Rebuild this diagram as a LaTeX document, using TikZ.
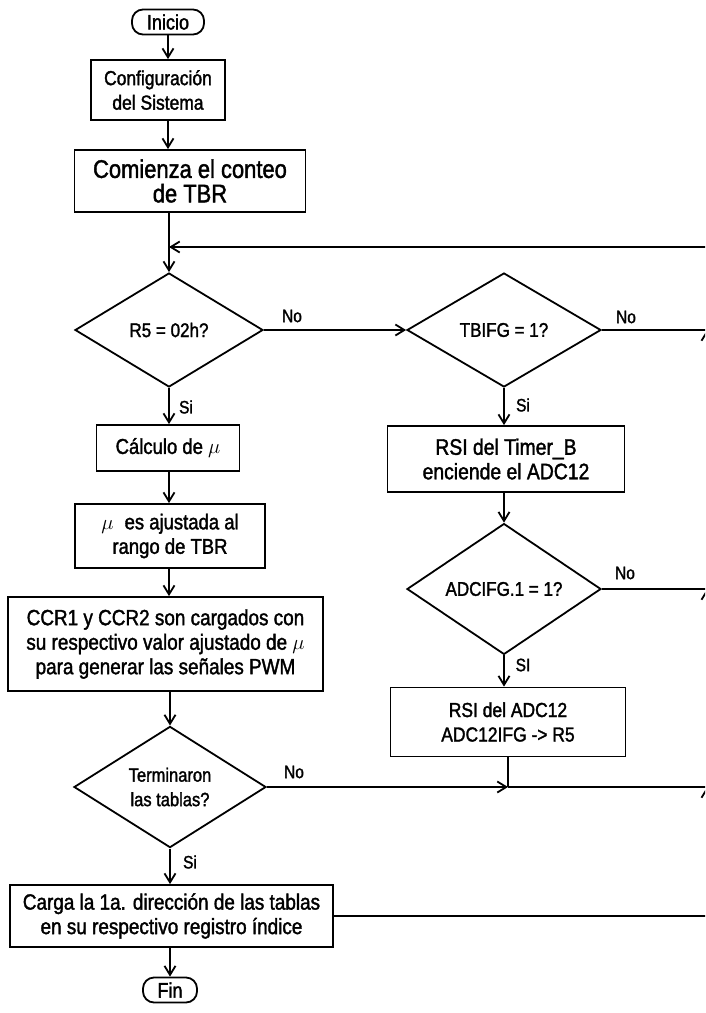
\documentclass[tikz,border=0pt]{standalone}
\usepackage{fontspec}
\setmainfont{Liberation Sans}[FakeBold=1.6,FakeStretch=0.86]
\usetikzlibrary{arrows.meta,shapes.geometric,calc}

\begin{document}
\begin{tikzpicture}[x=1pt,y=-1pt,
  line width=1.8pt,
  >={Straight Barb[length=9pt,width=11pt]},
  proc/.style={draw,rectangle,inner sep=0pt,align=center},
  term/.style={draw,rectangle,rounded corners=11pt,inner sep=0pt},
  dec/.style={draw,diamond,inner sep=0pt,align=center},
  lbl/.style={inner sep=0pt,fsz=18},
  fsz/.style={font=\fontsize{#1}{24.5}\selectfont},
  every node/.style={fsz=21}
]
% page frame
\path[use as bounding box,fill=white] (0,0) rectangle (705,1013);
\clip (0,0) rectangle (705,1013);

% ---------- main column ----------
\node[term, minimum width=72, minimum height=25] (inicio) at (168,22) {Inicio};
\node[proc, fsz=20.3, minimum width=134, minimum height=60] (config) at (158,90) {Configuración\\del Sistema};
\node[proc, fsz=25.5, minimum width=231, minimum height=62] (comienza) at (190,181) {Comienza el conteo\\de TBR};
\coordinate (loop) at (169,247);
\node[dec, fsz=19.8, minimum width=188, minimum height=114] (r5) at (169,330) {R5 = 02h?};
\node[proc, fsz=21.5, minimum width=143, minimum height=46] (calc) at (168,448) {Cálculo de $\mu$};
\node[proc, fsz=21.5, minimum width=190, minimum height=64] (ajuste) at (170,536) {$\mu$\; es ajustada al\\rango de TBR};
\node[proc, fsz=22, minimum width=315, minimum height=94] (ccr) at (165.5,644) {CCR1 y CCR2 son cargados con\\su respectivo valor ajustado de $\mu$\\para generar las señales PWM};
\node[dec, fsz=19.2, minimum width=192, minimum height=114] (tablas) at (170,787) {Terminaron\\las tablas?};
\node[proc, fsz=22, minimum width=323, minimum height=62] (carga) at (171.5,916) {Carga la 1a. dirección de las tablas\\en su respectivo registro índice};
\node[term, minimum width=54, minimum height=25] (fin) at (170,990) {Fin};

% ---------- interrupt column ----------
\node[dec, fsz=19.8, minimum width=194, minimum height=114] (tbifg) at (504,330) {TBIFG = 1?};
\node[proc, fsz=22.5, minimum width=237, minimum height=66] (rsitb) at (506,459) {RSI del Timer\_B\\enciende el ADC12};
\node[dec, fsz=19.8, minimum width=194, minimum height=116] (adcifg) at (504,589) {ADCIFG.1 = 1?};
\node[proc, fsz=20.3, minimum width=235, minimum height=69] (rsiadc) at (508,722) {RSI del ADC12\\ADC12IFG -> R5};

% return line on the right
\coordinate (R) at (707,247);

% ---------- branch labels ----------
\node[lbl] at (292,316) {No};
\node[lbl] at (186,407) {Si};
\node[lbl] at (626,317) {No};
\node[lbl] at (523,405) {Si};
\node[lbl] at (625,573) {No};
\node[lbl] at (523,665) {SI};
\node[lbl] at (294,772) {No};
\node[lbl] at (190,862) {Si};

% ---------- connectors ----------
\draw[->] (inicio.south) -- (inicio.south |- config.north);
\draw[->] (inicio.south |- config.south) -- (inicio.south |- comienza.north);
\draw[->] (r5.north |- comienza.south) -- (r5.north);
\draw[->] (r5.south) -- (r5.south |- calc.north);
\draw[->] (r5.south |- calc.south) -- (r5.south |- ajuste.north);
\draw[->] (r5.south |- ajuste.south) -- (r5.south |- ccr.north);
\draw[->] (tablas.north |- ccr.south) -- (tablas.north);
\draw[->] (tablas.south) -- (tablas.south |- carga.north);
\draw[->] (fin.north |- carga.south) -- (fin.north);

\draw[->] (r5.east) -- (tbifg.west);
\draw[->] (tbifg.south) -- (tbifg.south |- rsitb.north);
\draw[->] (tbifg.south |- rsitb.south) -- (adcifg.north);
\draw[->] (adcifg.south) -- (adcifg.south |- rsiadc.north);
\draw (rsiadc.south) -- (rsiadc.south |- tablas.east);
\draw[->] (tablas.east) -- (rsiadc.south |- tablas.east);

\draw (rsiadc.south |- tablas.east) -- (R |- tablas.east);
\draw (tbifg.east) -- (R |- tbifg.east);
\draw (adcifg.east) -- (R |- adcifg.east);
\draw (carga.east) -- (R |- carga.east);
\draw[->] (R |- carga.east) -- (R |- tablas.east);
\draw[->] (R |- tablas.east) -- (R |- adcifg.east);
\draw[->] (R |- adcifg.east) -- (R |- tbifg.east);
\draw[->] (R |- tbifg.east) -- (R) -- (loop);
\end{tikzpicture}
\end{document}
